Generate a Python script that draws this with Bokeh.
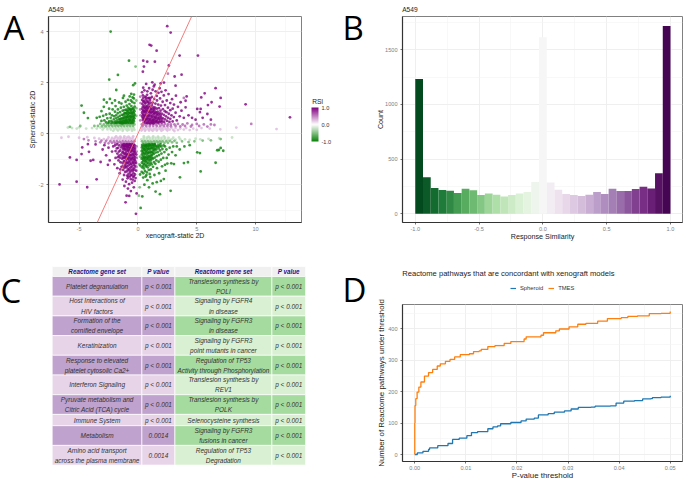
import numpy as np
from bokeh.embed import file_html
from bokeh.resources import INLINE
from bokeh.plotting import figure
from bokeh.core.properties import value
from bokeh.models import (ColumnDataSource, FixedTicker, NumeralTickFormatter, Slope,
                          LinearColorMapper, ColorBar, Legend, LegendItem)

# ---------- panel A: points (xenograft, spheroid) ----------
ur_strong = [(2.49,4.21),(2.78,3.96),(0.99,3.48),(1.13,3.45),(1.59,3.25),(3.54,3.06),(5.1,3.06),(0.45,2.86),(0.79,2.82),(1.44,2.82),(2.63,2.67),(0.51,2.63),(0.42,2.43),(3.12,2.24),(3.71,2.31),(2.21,2.0),(1.93,1.97),(1.22,2.01),(1.42,1.92),(3.2,1.88),(6.6,1.78),(5.67,1.58),(5.38,1.42),(4.14,1.46),(3.23,1.49),(9.15,1.15),(7.03,1.4),(6.26,1.23),(12.92,0.64),(6.94,1.06),(5.95,1.12),(5.04,0.97),(5.33,0.97),(5.27,0.84),(5.9,0.77),(4.05,1.03),(3.63,1.23),(4.05,1.29),(3.06,1.14),
(0.35,1.62),(0.55,1.7),(0.8,1.66),(0.95,1.78),(1.25,1.72),(1.5,1.66),(1.75,1.6),(1.1,1.58),(0.45,1.8),(2.0,1.64),(2.35,1.7),(1.35,1.85),(0.7,1.95),(1.85,1.78),(2.6,1.55),(2.2,1.5),(1.6,1.48),(2.9,1.35),(3.4,1.05),(3.7,0.9),(4.3,0.72),(4.6,0.62),(4.9,0.55),(5.5,0.62),(6.2,0.55),(3.9,0.62),(3.2,0.82),(3.55,0.68),(2.95,0.98),(2.75,1.2),(2.45,1.3),
(0.42,1.5),(0.6,1.45),(0.78,1.52),(0.95,1.4),(1.18,1.44),(1.38,1.36),(1.62,1.3),(1.88,1.38),(2.1,1.25),(2.3,1.12),(0.36,1.32),(0.52,1.28),(0.68,1.34),(0.85,1.25),(1.02,1.3),(1.25,1.22),(1.48,1.18),(1.72,1.14),(1.95,1.1),(2.55,1.02),(2.75,0.92),
(0.38,1.16),(0.5,1.1),(0.64,1.18),(0.76,1.08),(0.9,1.14),(1.05,1.06),(1.18,1.12),(1.32,1.04),(1.46,1.02),(1.6,0.98),(1.78,1.0),(1.92,0.9),(2.12,0.96),(2.28,0.88),(2.42,0.84),(2.62,0.78),(2.85,0.72),(3.05,0.65),
(0.36,0.98),(0.48,0.92),(0.6,1.0),(0.72,0.94),(0.84,0.98),(0.98,0.9),(1.12,0.94),(1.26,0.88),(1.4,0.9),(1.54,0.84),(1.68,0.86),(1.84,0.8),(2.02,0.78),(2.2,0.74),(2.38,0.68),(2.55,0.62),(2.75,0.58),(3.3,0.52),
(0.35,0.82),(0.47,0.76),(0.58,0.84),(0.7,0.78),(0.82,0.82),(0.95,0.74),(1.08,0.8),(1.22,0.72),(1.36,0.76),(1.5,0.68),(1.65,0.72),(1.8,0.64),(1.96,0.66),(2.12,0.6),(2.3,0.56),(2.48,0.5),(2.68,0.46),(2.95,0.48),
(0.37,0.66),(0.5,0.62),(0.62,0.68),(0.74,0.6),(0.88,0.64),(1.0,0.58),(1.15,0.62),(1.3,0.56),(1.44,0.6),(1.58,0.54),(1.74,0.56),(1.9,0.5),(2.06,0.5),(2.22,0.46),(0.42,0.54),(0.56,0.5),(0.7,0.52),(0.84,0.48),(0.98,0.5),(1.12,0.46),(1.26,0.48),(1.4,0.44),(1.54,0.45),(1.7,0.43),
(0.42,1.05),(0.56,1.02),(0.68,1.06),(0.8,1.02),(0.95,1.04),(1.1,0.98),(1.25,0.98),(1.38,0.96),(0.42,0.88),(0.54,0.86),(0.66,0.9),(0.78,0.88),(0.9,0.86),(1.04,0.84),(1.18,0.84),(1.32,0.82),(1.46,0.8),(1.6,0.78),(1.74,0.76),(1.9,0.72),(0.42,0.72),(0.54,0.7),(0.68,0.72),(0.8,0.7),(0.94,0.7),(1.08,0.7),(1.22,0.66),(1.38,0.66),(1.52,0.62),(1.68,0.62),(1.84,0.58),(2.0,0.58),(0.44,0.6),(0.62,0.56),(0.78,0.58),(0.92,0.56),(1.06,0.54),(1.22,0.52),(1.36,0.52),(1.5,0.5),(1.64,0.48),(1.82,0.46),(2.0,0.44),(0.5,0.45),(0.66,0.42),(0.8,0.42),(0.92,0.42),(1.05,0.4),(1.2,0.42),(1.33,0.4),(0.45,1.25),(0.6,1.22),(0.75,1.26),(0.92,1.2),(1.1,1.2),(0.46,1.4),(0.7,1.42),(0.86,1.38),(1.05,1.38)]
ll_strong = [(-6.66,-1.99),(-5.21,-1.88),(-4.31,-2.1),(-3.51,-1.79),(-5.78,-0.93),(-5.21,-1.03),(-4.79,-0.8),(-4.02,-1.06),(-4.16,-0.71),(-3.17,-1.11),(-3.8,-1.03),(-3.6,-0.42),(-4.25,-0.41),(-4.73,-0.54),(-0.96,-2.43),(-0.74,-2.44),(-1.05,-2.69),(-0.17,-3.14),(-0.11,-2.34),(-3.0,-0.62),(-2.7,-0.85),(-2.4,-1.05),(-2.85,-0.45),(-2.5,-0.55),(-2.2,-0.7),(-2.0,-1.2),(-1.9,-0.95),(-2.55,-1.22),(-1.75,-1.35),(-1.55,-1.55),(-1.3,-1.8),(-1.15,-2.05),(-0.85,-2.15),(-0.6,-2.25),(-0.35,-2.1),(-0.75,-1.98),(-0.5,-1.92),(-1.02,-1.88),(-0.28,-1.85),(-0.62,-1.78),(-0.88,-1.75),(-1.18,-1.62),(-0.4,-1.7),(-1.4,-1.3),(-1.65,-1.05),
(-0.25,-1.6),(-0.38,-1.55),(-0.52,-1.62),(-0.66,-1.52),(-0.8,-1.58),(-0.95,-1.48),(-1.08,-1.5),(-1.25,-1.42),(-0.3,-1.42),(-0.44,-1.38),(-0.58,-1.44),(-0.72,-1.36),(-0.86,-1.4),(-1.0,-1.32),(-1.14,-1.34),(-1.3,-1.16),(-1.48,-1.12),(-1.6,-0.86),(-0.24,-1.26),(-0.36,-1.22),(-0.5,-1.28),(-0.64,-1.2),(-0.78,-1.24),(-0.92,-1.16),(-1.06,-1.2),(-1.2,-1.08),(-1.36,-0.98),(-1.52,-0.94),(-1.75,-0.78),(-1.9,-0.68),(-2.1,-0.5),
(-0.22,-1.08),(-0.34,-1.04),(-0.46,-1.1),(-0.6,-1.02),(-0.74,-1.06),(-0.88,-1.0),(-1.02,-1.02),(-1.16,-0.94),(-1.3,-0.88),(-1.44,-0.82),(-1.62,-0.7),(-1.8,-0.58),(-0.24,-0.92),(-0.36,-0.88),(-0.5,-0.94),(-0.62,-0.86),(-0.76,-0.9),(-0.9,-0.84),(-1.04,-0.86),(-1.18,-0.78),(-1.32,-0.74),(-1.5,-0.66),(-1.68,-0.56),(-1.95,-0.46),
(-0.22,-0.76),(-0.34,-0.72),(-0.46,-0.78),(-0.6,-0.7),(-0.72,-0.74),(-0.86,-0.68),(-1.0,-0.72),(-1.12,-0.62),(-1.26,-0.6),(-1.42,-0.54),(-1.58,-0.46),(-1.78,-0.42),(-0.24,-0.6),(-0.38,-0.58),(-0.5,-0.62),(-0.64,-0.56),(-0.78,-0.58),(-0.92,-0.54),(-1.06,-0.52),(-1.2,-0.48),(-1.36,-0.44),(-0.28,-0.46),(-0.42,-0.44),(-0.56,-0.48),(-0.7,-0.43),(-0.84,-0.46),(-0.98,-0.42),(-1.12,-0.42),(-1.5,-1.4),(-0.15,-1.45),(-0.16,-1.15),(-0.14,-0.82),(-0.45,-1.8),(-0.68,-1.68),(-0.92,-1.64),(-0.2,-1.74),(-1.28,-1.28),(-1.7,-0.92),
(-0.3,-1.34),(-0.45,-1.46),(-0.6,-1.32),(-0.76,-1.44),(-0.92,-1.28),(-1.1,-1.26),(-0.3,-1.15),(-0.42,-1.14),(-0.56,-1.18),(-0.7,-1.12),(-0.84,-1.14),(-0.98,-1.1),(-1.12,-1.1),(-0.28,-1.0),(-0.4,-0.96),(-0.54,-1.0),(-0.68,-0.96),(-0.82,-0.96),(-0.96,-0.92),(-1.1,-0.92),(-1.24,-0.96),(-0.3,-0.82),(-0.42,-0.82),(-0.56,-0.84),(-0.7,-0.82),(-0.84,-0.8),(-0.98,-0.8),(-1.12,-0.78),(-1.26,-0.7),(-0.28,-0.68),(-0.4,-0.66),(-0.54,-0.68),(-0.66,-0.64),(-0.8,-0.64),(-0.94,-0.62),(-1.06,-0.62),(-1.2,-0.56),(-0.3,-0.54),(-0.44,-0.52),(-0.58,-0.54),(-0.72,-0.5),(-0.86,-0.52),(-1.0,-0.48),(-1.14,-0.48),(-1.3,-0.5),(-0.36,-0.42),(-0.5,-0.42),(-0.64,-0.42),(-0.78,-0.42),(-0.92,-0.42),(-1.24,-0.42),(-0.34,-1.66),(-0.6,-1.62),(-0.82,-1.68)]
ul_strong = [(-2.32,4.0),(-0.76,2.86),(-1.7,2.3),(-2.44,2.12),(-0.25,1.97),(-0.4,1.9),(-1.84,1.71),(-1.19,1.49),(-2.89,1.33),(-4.79,1.1),(-4.59,0.82),(-4.25,0.61),(-2.38,1.36),(-1.27,1.4),(-0.57,1.56),(-0.34,1.53),(-0.45,1.42),(-0.7,1.46),(-2.65,1.22),(-2.2,1.2),(-1.95,1.3),(-1.6,1.22),(-1.4,1.18),(-3.1,0.88),(-2.9,1.05),(-2.45,0.98),(-3.5,0.62),(-3.25,0.66),(-2.95,0.7),(-2.7,0.75),(-2.4,0.78),(-2.15,0.95),(-1.9,1.08),(-1.05,1.25),(-0.85,1.32),(-0.6,1.3),(-0.35,1.38),(-0.48,1.24),(-0.3,1.2),(-0.72,1.16),(-0.95,1.1),(-1.2,1.05),(-1.45,1.02),(-1.7,0.95),(-1.95,0.86),(-2.2,0.72),(-2.6,0.6),(-2.85,0.52),(-3.1,0.5),
(-0.28,1.06),(-0.42,1.0),(-0.56,1.08),(-0.7,0.98),(-0.84,1.02),(-1.0,0.94),(-1.14,0.92),(-1.3,0.9),(-1.52,0.84),(-1.72,0.8),(-1.86,0.72),(-2.02,0.68),(-2.32,0.62),(-0.3,0.88),(-0.44,0.84),(-0.58,0.9),(-0.72,0.82),(-0.86,0.86),(-1.02,0.8),(-1.18,0.78),(-1.36,0.74),(-1.54,0.7),(-1.68,0.64),(-1.85,0.6),(-2.05,0.56),(-2.25,0.5),(-2.45,0.48),(-2.7,0.44),
(-0.28,0.74),(-0.4,0.7),(-0.54,0.76),(-0.66,0.68),(-0.8,0.72),(-0.94,0.66),(-1.08,0.68),(-1.24,0.62),(-1.42,0.6),(-1.58,0.56),(-1.74,0.52),(-1.92,0.48),(-2.12,0.44),(-0.3,0.6),(-0.44,0.58),(-0.58,0.62),(-0.72,0.56),(-0.86,0.6),(-1.0,0.54),(-1.16,0.54),(-1.32,0.5),(-1.5,0.48),(-1.66,0.44),(-1.85,0.42),(-0.34,0.48),(-0.5,0.46),(-0.66,0.5),(-0.8,0.46),(-0.94,0.46),(-1.1,0.44),(-1.26,0.42),(-1.42,0.42),
(-0.35,0.94),(-0.5,0.96),(-0.64,0.94),(-0.78,0.94),(-0.92,0.9),(-0.35,0.8),(-0.5,0.8),(-0.64,0.82),(-0.8,0.78),(-0.94,0.78),(-1.1,0.8),(-1.26,0.72),(-0.34,0.66),(-0.48,0.66),(-0.6,0.68),(-0.74,0.64),(-0.9,0.68),(-1.02,0.62),(-1.16,0.62),(-1.32,0.58),(-1.5,0.56),(-0.38,0.54),(-0.52,0.52),(-0.66,0.54),(-0.78,0.52),(-0.94,0.52),(-1.08,0.5),(-1.24,0.48),(-1.4,0.46),(-1.58,0.44),(-1.76,0.44),(-0.42,0.42),(-0.58,0.42),(-0.72,0.42),(-0.88,0.42),(-1.02,0.42),(-1.18,0.42),(-1.34,0.4),(-1.5,0.42),(-1.95,0.42),(-2.25,0.42),(-2.5,0.42)]
lr_strong = [(0.23,-2.91),(2.78,-2.24),(5.33,-1.48),(6.6,-1.14),(7.25,-0.67),(6.88,-0.64),(7.03,-0.56),(6.74,-0.65),(3.57,-1.71),(5.04,-0.73),(5.27,-0.76),(3.91,-1.15),(4.25,-1.12),(3.06,-1.19),(2.83,-1.16),(2.5,-1.17),(1.87,-2.37),(1.5,-2.27),(0.37,-2.46),(0.94,-2.1),(2.2,-1.78),(1.95,-1.85),(1.6,-1.9),(1.25,-1.95),(0.8,-1.82),(0.55,-2.0),(1.05,-1.7),(1.4,-1.62),(0.65,-1.68),(1.8,-1.55),(2.35,-1.45),(2.05,-1.28),(2.3,-1.22),(1.62,-1.35),(3.2,-0.85),(3.55,-0.62),(3.95,-0.5),(4.4,-0.45),(2.9,-0.72),(2.6,-0.82),(3.3,-0.5),(2.7,-0.55),(3.0,-0.5),(2.45,-0.95),
(0.32,-1.5),(0.46,-1.55),(0.6,-1.46),(0.76,-1.52),(0.92,-1.42),(1.1,-1.4),(1.28,-1.3),(1.48,-1.18),(0.35,-1.32),(0.5,-1.36),(0.66,-1.28),(0.82,-1.32),(0.98,-1.24),(1.16,-1.2),(1.36,-1.12),(1.56,-1.05),(1.76,-1.1),(1.95,-1.02),(2.15,-0.95),(0.34,-1.14),(0.48,-1.18),(0.62,-1.1),(0.78,-1.14),(0.94,-1.06),(1.1,-1.04),(1.26,-0.98),(1.42,-0.94),(1.6,-0.88),(1.8,-0.84),(2.0,-0.78),(2.25,-0.72),(2.42,-0.62),
(0.32,-0.98),(0.46,-1.0),(0.6,-0.94),(0.74,-0.98),(0.88,-0.9),(1.02,-0.92),(1.18,-0.84),(1.34,-0.8),(1.5,-0.74),(1.68,-0.72),(1.88,-0.66),(2.08,-0.6),(2.3,-0.5),(0.34,-0.82),(0.48,-0.86),(0.62,-0.78),(0.76,-0.82),(0.9,-0.74),(1.06,-0.76),(1.22,-0.7),(1.38,-0.66),(1.56,-0.62),(1.76,-0.58),(1.98,-0.5),(2.18,-0.46),
(0.32,-0.68),(0.46,-0.7),(0.6,-0.64),(0.74,-0.68),(0.88,-0.6),(1.04,-0.62),(1.2,-0.56),(1.36,-0.54),(1.54,-0.5),(1.72,-0.46),(1.9,-0.42),(0.34,-0.54),(0.5,-0.56),(0.64,-0.5),(0.78,-0.54),(0.94,-0.48),(1.1,-0.48),(1.26,-0.44),(1.44,-0.42),(0.36,-0.44),(0.52,-0.43),(0.68,-0.44),(0.84,-0.42),(1.0,-0.42),(0.18,-1.6),(0.2,-1.25),(0.72,-1.62),(1.0,-1.58),(0.45,-1.72),
(0.4,-0.92),(0.54,-0.94),(0.68,-0.9),(0.82,-0.94),(0.96,-0.86),(1.12,-0.86),(1.28,-0.76),(0.4,-0.76),(0.54,-0.78),(0.68,-0.72),(0.84,-0.76),(0.98,-0.7),(1.14,-0.72),(1.3,-0.62),(1.46,-0.6),(0.4,-0.62),(0.54,-0.62),(0.68,-0.58),(0.82,-0.62),(0.96,-0.56),(1.12,-0.56),(1.28,-0.5),(1.46,-0.46),(1.64,-0.52),(1.82,-0.5),(0.42,-0.5),(0.58,-0.48),(0.72,-0.46),(0.86,-0.48),(1.02,-0.44),(1.18,-0.42),(1.34,-0.42),(0.44,-1.08),(0.58,-1.04),(0.72,-1.06),(0.86,-1.0),(1.04,-0.98),(1.2,-0.94),(0.44,-1.26),(0.58,-1.2),(0.74,-1.24),(0.9,-1.16),(1.08,-1.14)]
ur_mid = [(9.63,0.38),(0.2,1.45),(0.22,1.2),(0.2,0.95),(0.22,0.72),(0.2,0.52),(0.55,0.36),(0.8,0.38),(1.05,0.36),(1.3,0.38),(1.55,0.36),(1.8,0.38),(2.05,0.36),(2.3,0.38),(2.55,0.36),(2.8,0.36),(3.1,0.36),(3.4,0.38),(3.8,0.36),(4.2,0.4),(4.6,0.34),(5.0,0.38),(5.6,0.36),(6.2,0.36),(6.5,0.34),(0.4,0.3),(0.7,0.3),(1.0,0.3),(1.3,0.31),(1.6,0.3),(1.9,0.3),(2.2,0.3),(2.5,0.3),(2.8,0.29),(3.2,0.3),(3.6,0.28),(4.0,0.3),(4.5,0.28),(5.2,0.3),(5.9,0.28),(0.33,0.36),(2.55,2.35),(3.9,1.4)]
ll_mid = [(-4.59,-0.21),(-0.12,-1.3),(-0.1,-0.95),(-0.12,-0.7),(-0.12,-0.5),(-0.45,-0.36),(-0.7,-0.38),(-0.95,-0.36),(-1.2,-0.37),(-1.45,-0.36),(-1.7,-0.36),(-1.95,-0.37),(-2.2,-0.36),(-2.5,-0.38),(-2.8,-0.36),(-3.2,-0.34),(-3.6,-0.3),(-0.3,-0.3),(-0.55,-0.3),(-0.8,-0.31),(-1.05,-0.3),(-1.3,-0.3),(-1.55,-0.31),(-1.8,-0.3),(-2.05,-0.3),(-2.35,-0.3),(-2.7,-0.28),(-3.1,-0.27),(-4.2,-0.26)]
ul_mid = [(-0.2,2.63),(-0.14,1.3),(-0.14,1.0),(-0.14,0.7),(-0.3,0.36),(-0.55,0.37),(-0.8,0.36),(-1.05,0.37),(-1.3,0.36),(-1.55,0.36),(-1.8,0.36),(-2.05,0.37),(-2.3,0.36),(-2.6,0.36),(-2.9,0.36),(-3.2,0.38),(-0.42,0.3),(-0.68,0.3),(-0.92,0.3),(-1.18,0.3),(-1.42,0.3),(-1.68,0.3),(-1.92,0.3),(-2.18,0.3),(-2.45,0.3),(-2.75,0.29),(-3.05,0.29),(-3.4,0.3),(-3.7,0.3),(-4.9,0.3),(-5.78,0.27)]
lr_mid = [(7.03,-0.21),(0.12,-1.2),(0.18,-0.9),(0.15,-2.1),(0.08,-2.43),(0.45,-0.36),(0.7,-0.37),(0.95,-0.36),(1.2,-0.36),(1.45,-0.37),(1.7,-0.36),(1.95,-0.36),(2.25,-0.37),(2.55,-0.36),(2.9,-0.34),(3.3,-0.36),(3.75,-0.3),(4.3,-0.33),(4.8,-0.3),(0.35,-0.3),(0.6,-0.3),(0.85,-0.3),(1.1,-0.31),(1.35,-0.3),(1.6,-0.3),(1.85,-0.3),(2.1,-0.3),(2.4,-0.3),(2.7,-0.28),(3.1,-0.28),(5.5,-0.27),(6.2,-0.26)]
ur_pale = [(11.78,0.18),(8.36,0.24),(7.0,0.17),(0.3,0.24),(0.55,0.22),(0.8,0.24),(1.05,0.22),(1.3,0.24),(1.55,0.22),(1.8,0.24),(2.05,0.22),(2.3,0.24),(2.55,0.22),(2.85,0.23),(3.2,0.22),(3.6,0.2),(4.1,0.22),(4.7,0.2),(5.4,0.22),(6.1,0.2),(0.4,0.17),(0.65,0.16),(0.9,0.17),(1.15,0.16),(1.4,0.17),(1.65,0.16),(1.9,0.17),(2.15,0.16),(2.4,0.17),(2.7,0.16),(3.0,0.15),(3.4,0.14),(3.9,0.16),(4.4,0.14),(5.0,0.15),(0.3,0.12),(0.6,0.11),(0.95,0.12),(1.25,0.11),(1.6,0.12),(2.0,0.11),(2.5,0.12),(3.1,0.1)]
ll_pale = [(-6.5,-0.16),(-5.9,-0.12),(-5.0,-0.16),(-4.3,-0.14),(-3.7,-0.17),(-3.3,-0.2),(-2.9,-0.21),(-2.6,-0.22),(-2.3,-0.24),(-2.05,-0.22),(-1.8,-0.24),(-1.55,-0.22),(-1.3,-0.24),(-1.05,-0.22),(-0.8,-0.24),(-0.55,-0.22),(-0.3,-0.24),(-2.5,-0.15),(-2.2,-0.17),(-1.95,-0.16),(-1.7,-0.17),(-1.45,-0.16),(-1.2,-0.17),(-0.95,-0.16),(-0.7,-0.17),(-0.45,-0.16),(-1.85,-0.11),(-1.5,-0.12),(-1.15,-0.11),(-0.8,-0.12),(-0.4,-0.11)]
ul_pale = [(-5.95,0.24),(-5.6,0.22),(-5.2,0.2),(-5.0,0.25),(-4.4,0.2),(-3.9,0.22),(-3.5,0.2),(-3.2,0.24),(-2.9,0.22),(-2.6,0.24),(-2.35,0.22),(-2.1,0.24),(-1.85,0.22),(-1.6,0.24),(-1.35,0.22),(-1.1,0.24),(-0.85,0.22),(-0.6,0.24),(-0.35,0.22),(-3.0,0.16),(-2.6,0.17),(-2.3,0.16),(-2.0,0.17),(-1.75,0.16),(-1.5,0.17),(-1.25,0.16),(-1.0,0.17),(-0.75,0.16),(-0.5,0.17),(-0.3,0.15),(-2.1,0.11),(-1.7,0.12),(-1.3,0.11),(-0.9,0.12),(-0.5,0.11)]
lr_pale = [(8.0,-0.15),(6.9,-0.18),(6.0,-0.2),(5.3,-0.22),(4.9,-0.2),(4.4,-0.24),(4.0,-0.22),(3.6,-0.22),(3.2,-0.23),(2.85,-0.22),(2.5,-0.24),(2.25,-0.22),(2.0,-0.24),(1.75,-0.22),(1.5,-0.24),(1.25,-0.22),(1.0,-0.24),(0.75,-0.22),(0.5,-0.24),(0.3,-0.22),(3.5,-0.15),(3.0,-0.16),(2.6,-0.17),(2.3,-0.16),(2.0,-0.17),(1.75,-0.16),(1.5,-0.17),(1.25,-0.16),(1.0,-0.17),(0.75,-0.16),(0.5,-0.17),(2.2,-0.11),(1.7,-0.12),(1.3,-0.11),(0.9,-0.12),(0.5,-0.11)]
rsi_strong, rsi_mid, rsi_pale = 1.0, 0.62, 0.28
scatter_x_ticks = [-5, 0, 5, 10]
scatter_y_ticks = [-2, 0, 2, 4]
rsi_ticks = [-1.0, -0.5, 0.0, 0.5, 1.0]

# ---------- panel B ----------
similarity_counts = [1234,333,235,217,211,189,229,214,171,186,174,159,171,186,198,290,1616,287,220,180,171,162,174,200,180,229,208,208,226,247,232,370,1717]
sim_x_ticks = [-1.0, -0.5, 0.0, 0.5, 1.0]
count_ticks = [0, 500, 1000, 1500]

# ---------- panel C ----------
table_header = ["Reactome gene set", "P value", "Reactome gene set", "P value"]
left_sets = ["Platelet degranulation", "Host Interactions of\nHIV factors", "Formation of the\ncornified envelope", "Keratinization",
             "Response to elevated\nplatelet cytosolic Ca2+", "Interferon Signaling", "Pyruvate metabolism and\nCitric Acid (TCA) cycle",
             "Immune System", "Metabolism", "Amino acid transport\nacross the plasma membrane"]
left_p = ["p < 0.001"] * 8 + ["0.0014", "0.0014"]
right_sets = ["Translesion synthesis by\nPOLI", "Signaling by FGFR4\nin disease", "Signaling by FGFR3\nin disease", "Signaling by FGFR3\npoint mutants in cancer",
              "Regulation of TP53\nActivity through Phosphorylation", "Translesion synthesis by\nREV1", "Translesion synthesis by\nPOLK",
              "Selenocysteine synthesis", "Signaling by FGFR3\nfusions in cancer", "Regulation of TP53\nDegradation"]
right_p = ["p < 0.001"] * 10

# ---------- panel D ----------
tmes_p = [0,0,0.00005,0.0002,0.00046,0.0008,0.0012,0.0019,0.0027,0.0035,0.0044,0.005,0.006,0.0069,0.0078,0.0089,0.0107,0.0115,0.0126,0.013,0.0143,0.0157,0.0175,0.0188,0.0214,0.0218,0.0247,0.0252,0.0276,0.0283,0.0302,0.0319,0.0335,0.0358,0.0377,0.0404,0.0417,0.0436,0.0459,0.0482,0.05]
tmes_n = [0,100,156,178,199,215,231,250,261,271,282,289,297,303,311,318,321,328,330,335,344,347,354,360,368,375,380,388,394,400,407,415,418,425,433,436,440,442,449,450,456]
sph_p = [0,0.0005,0.0016,0.0027,0.0029,0.0045,0.0065,0.0074,0.0087,0.0102,0.0111,0.0123,0.0143,0.0153,0.0162,0.0168,0.0188,0.0208,0.0218,0.0234,0.0242,0.0261,0.0273,0.0293,0.0306,0.032,0.0345,0.0353,0.0383,0.0394,0.0409,0.043,0.0446,0.0462,0.0465,0.0482,0.05]
sph_n = [0,5,10,16,21,28,35,48,52,60,70,73,82,88,91,98,102,107,113,116,126,130,135,139,145,150,151,154,155,164,170,172,177,178,181,183,187]
p_ticks = [0, 0.01, 0.02, 0.03, 0.04, 0.05]
n_ticks = [0, 100, 200, 300, 400]
legend_labels = ["Spheroid", "TMES"]
SPH_COLOR, TMES_COLOR = "#1f78b4", "#ff7f0e"

# ---------- texts that sit outside the plot frames ----------
panel_letters = ["A", "B", "C", "D"]
panel_titles = ["A549", "RSI", "A549", "Reactome pathways that are concordant with xenograft models"]

FONT = "Liberation Sans"
LETTER = "Open Sans"
TICK = "#7f7f7f"
GRID = "#ededed"


def at(left, top):
    return {"position": "absolute", "left": f"{left}px", "top": f"{top}px"}


def lerp_palette(stops, n=256):
    rgb = np.array([[int(c[i:i + 2], 16) for i in (1, 3, 5)] for c in stops], float)
    pos = np.linspace(0, 1, len(stops))
    t = np.linspace(0, 1, n)
    out = np.stack([np.interp(t, pos, rgb[:, k]) for k in range(3)], 1).round().astype(int)
    return ["#%02x%02x%02x" % tuple(v) for v in out]


def style(p, xt, xm, yt, ym, xfmt, yfmt, xlabel, ylabel, label_size, ystand):
    p.outline_line_color = "#808080"
    p.outline_line_width = 1
    p.background_fill_color = "white"
    p.border_fill_color = None
    p.xaxis.ticker = FixedTicker(ticks=xt, minor_ticks=xm)
    p.yaxis.ticker = FixedTicker(ticks=yt, minor_ticks=ym)
    p.xaxis.formatter = NumeralTickFormatter(format=xfmt)
    p.yaxis.formatter = NumeralTickFormatter(format=yfmt)
    for ax in (p.xaxis[0], p.yaxis[0]):
        ax.axis_line_color = "#333333"
        ax.axis_line_width = 1.2
        ax.major_tick_line_color = "#333333"
        ax.major_tick_line_width = 0.7
        ax.major_tick_out = 2
        ax.major_tick_in = 0
        ax.minor_tick_line_color = None
        ax.major_label_text_font = FONT
        ax.major_label_text_font_size = "5.6px"
        ax.major_label_text_color = TICK
        ax.major_label_standoff = 1
        ax.axis_label_text_font = FONT
        ax.axis_label_text_font_size = label_size
        ax.axis_label_text_font_style = "normal"
        ax.axis_label_text_color = "#222222"
    p.xaxis.axis_label = xlabel
    p.yaxis.axis_label = ylabel
    p.xaxis.major_label_standoff = 0
    p.xaxis.axis_label_standoff = -2
    p.yaxis.axis_label_standoff = ystand
    p.yaxis.major_label_orientation = "horizontal"
    p.grid.grid_line_color = GRID
    p.grid.grid_line_width = 0.9
    p.grid.minor_grid_line_color = "#f3f3f3"
    p.grid.minor_grid_line_width = 0.6


# ---------- A ----------
rsi_palette = lerp_palette(["#0a800a", "#ffffff", "#800080"])
rsi_map = LinearColorMapper(palette=rsi_palette, low=-1, high=1)
layers = [(ur_pale, rsi_pale), (ll_pale, rsi_pale), (ul_pale, -rsi_pale), (lr_pale, -rsi_pale),
          (ur_mid, rsi_mid), (ll_mid, rsi_mid), (ul_mid, -rsi_mid), (lr_mid, -rsi_mid),
          (ur_strong, rsi_strong), (ll_strong, rsi_strong), (ul_strong, -rsi_strong), (lr_strong, -rsi_strong)]
ax_, ay_, ar_ = [], [], []
for pts, r in layers:
    for px, py in pts:
        ax_.append(px); ay_.append(py); ar_.append(r)
a = figure(width=340, height=240, frame_width=253, frame_height=206, min_border_left=48, min_border_right=39,
           min_border_top=16, min_border_bottom=18, x_range=(-7.6, 13.9), y_range=(-3.48, 4.59),
           toolbar_location=None, output_backend="svg", frame_align=False, styles=at(0, 0))
style(a, scatter_x_ticks, [-7.5, -2.5, 2.5, 7.5, 12.5], scatter_y_ticks, [-3, -1, 1, 3], "0", "0",
      "xenograft-static 2D", "Spheroid-static 2D", "7px", 0)
a.scatter("x", "y", source=ColumnDataSource(dict(x=ax_, y=ay_, rsi=ar_)), size=2.8, line_color=None,
          fill_color={"field": "rsi", "transform": rsi_map}, fill_alpha=0.8)
a.add_layout(Slope(gradient=1.006, y_intercept=0, line_color="#f26d6d", line_width=0.9))
cb = ColorBar(color_mapper=rsi_map, ticker=FixedTicker(ticks=rsi_ticks), formatter=NumeralTickFormatter(format="0.0"),
              width=7, height=34, location=(263, 81), padding=0, margin=0, major_label_text_font=FONT,
              major_label_text_font_size="5.6px", major_label_text_color="#333333", label_standoff=3,
              major_tick_line_color=None, minor_tick_line_color=None, background_fill_color=None, border_line_color=None)
a.add_layout(cb, "center")

# ---------- B ----------
sim_palette = lerp_palette(["#00441b", "#1b7837", "#5aae61", "#a6dba0", "#d9f0d3", "#f7f7f7", "#e7d4e8", "#c2a5cf", "#9970ab", "#762a83", "#40004b"])
sim_map = LinearColorMapper(palette=sim_palette, low=-1, high=1)
n_bins = len(similarity_counts)
edges = np.linspace(-1, 1, n_bins + 1)
b = figure(width=345, height=240, frame_width=280, frame_height=206, min_border_left=62, min_border_right=3,
           min_border_top=16, min_border_bottom=18, x_range=(-1.1, 1.094), y_range=(-80, 1805),
           toolbar_location=None, output_backend="svg", frame_align=False, styles=at(340, 0))
style(b, sim_x_ticks, [-0.75, -0.25, 0.25, 0.75], count_ticks, [250, 750, 1250, 1750], "0.0", "0",
      "Response Similarity", "Count", "7.2px", -3)
b.quad(left="l", right="r", bottom=0, top="n", line_color=None,
       fill_color={"field": "sim", "transform": sim_map},
       source=ColumnDataSource(dict(l=edges[:-1], r=edges[1:], n=similarity_counts, sim=(edges[:-1] + edges[1:]) / 2)))

# ---------- C ----------
col_w = [89.7, 33.0, 97.0, 33.7]
row_2, row_1, row_h = 19.7, 11.3, 10.0
heights = [row_h]
for l, r in zip(left_sets, right_sets):
    heights.append(row_2 if ("\n" in l or "\n" in r) else row_1)
x0, y0 = 51.7, 26.0
col_edges = np.concatenate([[x0], x0 + np.cumsum(col_w)])
row_edges = np.concatenate([[y0], y0 + np.cumsum(heights)])
c = figure(width=340, height=241, min_border=0, x_range=(0, 340), y_range=(241, 0), toolbar_location=None,
           output_backend="svg", outline_line_color=None, frame_align=False, styles=at(0, 240),
           background_fill_color=None, border_fill_color=None)
c.axis.visible = False
c.grid.visible = False
L, R, T, B_, F = [], [], [], [], []
tx, ty, tt = [], [], []
for i in range(len(heights)):
    for j in range(4):
        L.append(col_edges[j]); R.append(col_edges[j + 1]); T.append(row_edges[i]); B_.append(row_edges[i + 1])
        if i == 0:
            F.append("#f0f0f0")
        elif j < 2:
            F.append("#bfa2cd" if i % 2 else "#e7d4e8")
        else:
            F.append("#a6dba0" if i % 2 else "#d9f0d3")
        tx.append((col_edges[j] + col_edges[j + 1]) / 2)
        ty.append((row_edges[i] + row_edges[i + 1]) / 2)
        if i == 0:
            tt.append(table_header[j])
        else:
            tt.append([left_sets, left_p, right_sets, right_p][j][i - 1])
c.quad(left=L, right=R, top=T, bottom=B_, fill_color=F, line_color="white", line_width=0.7)
c.text(x=tx[:4], y=ty[:4], text=tt[:4], text_font=value(FONT), text_font_size=value("6.3px"), text_font_style="bold italic",
       text_color="#14148c", text_align="center", text_baseline="middle")
c.text(x=tx[4:], y=ty[4:], text=tt[4:], text_font=value(FONT), text_font_size=value("6.45px"), text_font_style="italic",
       text_color="#333333", text_align="center", text_baseline="middle", text_line_height=1.45)

# ---------- D ----------
d = figure(width=345, height=241, frame_width=280, frame_height=157, min_border_left=62, min_border_right=3,
           min_border_top=64, min_border_bottom=20, x_range=(-0.0024, 0.0524), y_range=(-22.3, 478),
           toolbar_location=None, output_backend="svg", frame_align=False, styles=at(340, 240))
style(d, p_ticks, [0.005, 0.015, 0.025, 0.035, 0.045], n_ticks, [50, 150, 250, 350, 450], "0.00", "0",
      "P-value threshold", "Number of Reactome pathways under threshold", "7.9px", -1)
d.step(sph_p, sph_n, mode="after", line_color=SPH_COLOR, line_width=1.3)
d.step(tmes_p, tmes_n, mode="after", line_color=TMES_COLOR, line_width=1.3)

# ---------- overlay carrying the panel letters, small titles and the legend of D ----------
o = figure(width=685, height=481, min_border=0, x_range=(0, 685), y_range=(481, 0), toolbar_location=None,
           output_backend="svg", outline_line_color=None, frame_align=False, styles=at(0, 0),
           background_fill_color=None, border_fill_color=None)
o.axis.visible = False
o.grid.visible = False
o.text(x=[3, 342, 0, 342], y=[27, 27, 290, 289], text=panel_letters, text_font=value(LETTER), text_font_size=value("33px"),
       text_color="#000000", text_baseline="alphabetic")
o.text(x=[47.7, 311.7, 401.7], y=[9, 100.7, 9], text=panel_titles[:3], text_font=value(FONT), text_font_size=value("6.6px"),
       text_color="#222222", text_baseline="middle")
o.text(x=[401.7], y=[272.7], text=panel_titles[3:], text_font=value(FONT), text_font_size=value("7.6px"),
       text_color="#222222", text_baseline="middle")
key1 = o.line([-20, -10], [-20, -10], line_color=SPH_COLOR, line_width=1.2)
key2 = o.line([-20, -10], [-20, -10], line_color=TMES_COLOR, line_width=1.2)
leg = Legend(items=[LegendItem(label=legend_labels[0], renderers=[key1]), LegendItem(label=legend_labels[1], renderers=[key2])],
             orientation="horizontal", location=(510, 190), background_fill_color=None, background_fill_alpha=0,
             border_line_color=None, glyph_width=6, glyph_height=6, label_standoff=4, spacing=5, padding=0, margin=0,
             label_text_font=FONT, label_text_font_size="5.8px", label_text_color="#333333", label_height=6)
o.add_layout(leg, "center")

open("out.html", "w").write(file_html([a, b, c, d, o], INLINE))
